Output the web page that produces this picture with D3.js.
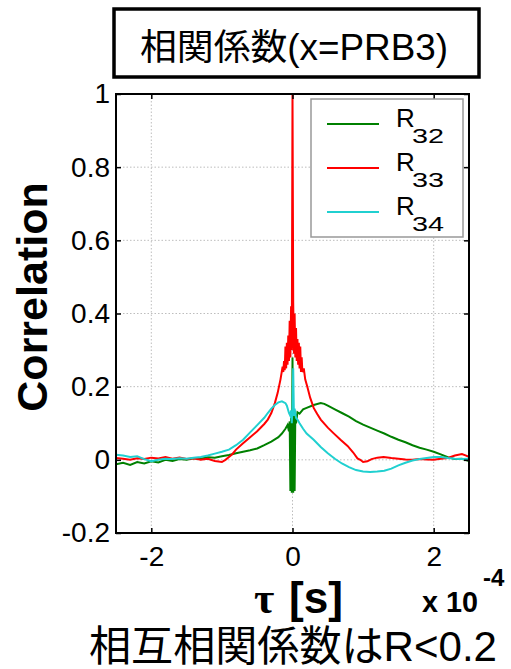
<!DOCTYPE html>
<html><head><meta charset="utf-8">
<script src="https://cdn.jsdelivr.net/npm/d3@7/dist/d3.min.js"></script>
<style>body{margin:0;background:#fff}svg{display:block}</style>
</head><body>
<script>
// ---- data (tau in units of 1e-4 s) ----
const seriesNames = ["R32", "R33", "R34"];
const seriesSubs = ["32", "33", "34"];
const seriesColors = ["#008000", "#ff0000", "#20d0d0"];

const tauG = [-2.5,-2.4,-2.3,-2.2,-2.1,-2.0,-1.9,-1.8,-1.7,-1.6,-1.5,-1.4,-1.3,-1.2,-1.1,-1.0,
  -0.9,-0.8,-0.7,-0.6,-0.5,-0.4,-0.3,-0.25,-0.2,-0.15,-0.1,-0.07,-0.05,-0.04,-0.03,-0.02,-0.01,
  0,0.01,0.02,0.03,0.04,0.05,0.07,0.1,0.15,0.2,0.3,0.4,0.45,0.5,
  0.6,0.7,0.8,0.9,1.0,1.1,1.2,1.3,1.4,1.5,1.6,1.7,1.8,1.9,2.0,2.1,2.2,2.3,2.4,2.5];
const valG = [-0.012,-0.008,-0.014,-0.006,-0.010,-0.004,-0.007,0.000,-0.003,0.002,0.000,0.004,0.003,0.007,0.006,0.010,
  0.013,0.018,0.022,0.026,0.031,0.040,0.050,0.056,0.062,0.072,0.085,0.095,0.078,0.105,-0.085,0.115,-0.09,
  0.28,-0.09,0.12,-0.085,0.125,0.10,0.13,0.126,0.138,0.142,0.150,0.155,0.153,0.148,
  0.138,0.128,0.118,0.106,0.096,0.088,0.080,0.072,0.063,0.055,0.048,0.040,0.033,0.028,0.022,0.015,0.007,0.002,0.003,-0.003];

const tauR = [-2.5,-2.4,-2.3,-2.2,-2.1,-2.0,-1.9,-1.8,-1.7,-1.6,-1.5,-1.4,-1.3,-1.2,-1.1,-1.0,
  -0.95,-0.9,-0.85,-0.8,-0.7,-0.6,-0.5,-0.4,-0.35,-0.3,-0.25,-0.21,-0.17,
  -0.14,-0.13,-0.12,-0.11,-0.1,-0.09,-0.08,-0.07,-0.06,-0.05,-0.04,-0.03,-0.02,-0.01,
  0,0.01,0.02,0.03,0.04,0.05,0.06,0.07,0.08,0.09,0.1,0.11,0.12,0.13,0.14,
  0.16,0.18,0.21,0.25,0.3,0.35,0.4,0.5,0.58,0.68,0.78,0.86,0.92,0.96,
  1.0,1.06,1.12,1.2,1.29,1.4,1.5,1.6,1.7,1.8,1.9,2.0,2.1,2.2,2.3,2.4,2.45,2.5];
const valR = [0.005,0.003,0.000,0.004,0.002,0.006,0.004,0.008,0.003,0.006,0.002,0.004,0.000,0.003,-0.003,-0.006,
  0.000,0.008,0.016,0.028,0.045,0.062,0.078,0.098,0.110,0.128,0.155,0.183,0.220,
  0.255,0.240,0.270,0.245,0.310,0.250,0.320,0.260,0.340,0.270,0.380,0.280,0.420,0.300,
  1.0,0.430,0.290,0.400,0.280,0.360,0.270,0.330,0.260,0.320,0.250,0.310,0.240,0.280,0.240,
  0.250,0.220,0.200,0.170,0.142,0.125,0.110,0.088,0.073,0.055,0.038,0.020,0.004,0.000,
  -0.006,-0.004,0.002,0.006,0.008,0.005,0.003,0.001,0.000,0.002,0.001,0.000,0.003,0.005,0.012,0.016,0.012,0.008];

const tauC = [-2.5,-2.4,-2.3,-2.2,-2.1,-2.0,-1.9,-1.8,-1.7,-1.6,-1.5,-1.4,-1.3,-1.2,-1.1,-1.0,
  -0.9,-0.8,-0.7,-0.6,-0.5,-0.4,-0.35,-0.3,-0.25,-0.2,-0.15,-0.1,-0.08,-0.05,-0.03,-0.02,-0.01,
  0,0.01,0.02,0.03,0.05,0.07,0.1,0.15,0.2,
  0.3,0.4,0.5,0.6,0.7,0.8,0.9,1.0,1.1,1.2,1.3,1.4,1.5,1.6,1.7,1.8,1.9,2.0,2.1,2.2,2.3,2.4,2.5];
const valC = [0.014,0.012,0.008,0.010,0.002,-0.004,0.000,0.003,0.002,0.004,0.003,0.006,0.008,0.012,0.017,0.022,
  0.028,0.040,0.055,0.075,0.095,0.115,0.128,0.140,0.150,0.157,0.160,0.155,0.148,0.128,0.12,0.135,0.10,
  0.14,0.25,0.12,0.14,0.115,0.11,0.10,0.085,0.072,
  0.055,0.035,0.018,0.003,-0.010,-0.020,-0.028,-0.032,-0.033,-0.032,-0.030,-0.024,-0.015,-0.008,-0.002,0.002,0.005,0.008,0.008,0.005,0.003,0.002,0.003];

const xTicks = [-2, 0, 2];
const xTickLabels = ["-2", "0", "2"];
const yTicks = [-0.2, 0, 0.2, 0.4, 0.6, 0.8, 1];
const yTickLabels = ["-0.2", "0", "0.2", "0.4", "0.6", "0.8", "1"];

const titleText = "相関係数(x=PRB3)";
const yLabelText = "Correlation";
const bottomText = "相互相関係数はR<0.2";

// ---- drawing ----
const W = 511, H = 669;
const L = 116, R = 469, T = 94, B = 533;
const sans = "'Liberation Sans', Arial, 'Noto Sans CJK JP', sans-serif";

const svg = d3.select("body").append("svg").attr("width", W).attr("height", H);
const x = d3.scaleLinear().domain([-2.5, 2.5]).range([L, R]);
const y = d3.scaleLinear().domain([-0.2, 1]).range([B, T]);

// title box
svg.append("rect").attr("x", 114).attr("y", 9).attr("width", 365).attr("height", 68)
  .attr("fill", "#fff").attr("stroke", "#000").attr("stroke-width", 3.5);
svg.append("text").attr("x", 294).attr("y", 60).attr("text-anchor", "middle")
  .attr("font-family", sans).attr("font-size", 36).attr("textLength", 308)
  .attr("lengthAdjust", "spacingAndGlyphs").text(titleText);

// grid
const gridG = svg.append("g").attr("stroke", "#bdbdbd").attr("stroke-width", 1)
  .attr("stroke-dasharray", "1.5,2");
gridG.selectAll("line.gx").data(xTicks).join("line").attr("class", "gx")
  .attr("x1", d => x(d)).attr("x2", d => x(d)).attr("y1", T).attr("y2", B);
gridG.selectAll("line.gy").data(yTicks.filter(d => d > -0.2 && d < 1)).join("line").attr("class", "gy")
  .attr("y1", d => y(d)).attr("y2", d => y(d)).attr("x1", L).attr("x2", R);

// lines
svg.append("clipPath").attr("id", "clip").append("rect")
  .attr("x", L).attr("y", T - 1).attr("width", R - L).attr("height", B - T + 1);
const line = d3.line().x(d => x(d[0])).y(d => y(d[1]));
const series = [d3.zip(tauG, valG), d3.zip(tauR, valR), d3.zip(tauC, valC)];
const plotG = svg.append("g").attr("clip-path", "url(#clip)");
series.forEach((s, i) => {
  plotG.append("path").datum(s).attr("d", line).attr("fill", "none")
    .attr("stroke", seriesColors[i]).attr("stroke-width", 2).attr("stroke-linejoin", "miter");
});

// axes
function styleAxis(g) {
  g.select(".domain").remove();
  g.selectAll(".tick line").attr("stroke", "#000").attr("stroke-width", 1.5);
  g.selectAll("text").attr("font-family", sans).attr("font-size", 28).attr("fill", "#000");
}
svg.append("g").attr("transform", `translate(0,${B})`)
  .call(d3.axisBottom(x).tickValues(xTicks).tickFormat((d, i) => xTickLabels[i]).tickSize(-5).tickPadding(13))
  .call(styleAxis);
svg.append("g").attr("transform", `translate(0,${T})`)
  .call(d3.axisTop(x).tickValues(xTicks).tickFormat("").tickSize(-5)).call(styleAxis);
svg.append("g").attr("transform", `translate(${L},0)`)
  .call(d3.axisLeft(y).tickValues(yTicks).tickFormat((d, i) => yTickLabels[i]).tickSize(-5).tickPadding(6))
  .call(styleAxis);
svg.append("g").attr("transform", `translate(${R},0)`)
  .call(d3.axisRight(y).tickValues(yTicks).tickFormat("").tickSize(-5)).call(styleAxis);

svg.append("rect").attr("x", L).attr("y", T).attr("width", R - L).attr("height", B - T)
  .attr("fill", "none").attr("stroke", "#000").attr("stroke-width", 2);

// legend
const lg = svg.append("g");
lg.append("rect").attr("x", 311).attr("y", 99).attr("width", 152).attr("height", 138)
  .attr("fill", "#fff").attr("stroke", "#999").attr("stroke-width", 1.5);
seriesNames.forEach((n, i) => {
  const yy = 124 + i * 44;
  lg.append("line").attr("x1", 327).attr("x2", 379).attr("y1", yy).attr("y2", yy)
    .attr("stroke", seriesColors[i]).attr("stroke-width", 2);
  lg.append("text").attr("x", 396).attr("y", yy + 3).attr("font-family", sans)
    .attr("font-size", 26).text("R");
  lg.append("text").attr("x", 412).attr("y", yy + 19).attr("font-family", sans)
    .attr("font-size", 21).attr("textLength", 32).attr("lengthAdjust", "spacingAndGlyphs").text(seriesSubs[i]);
});

// y label
svg.append("text").attr("transform", "translate(47,297) rotate(-90)")
  .attr("text-anchor", "middle").attr("font-family", sans).attr("font-weight", "bold")
  .attr("font-size", 43).text(yLabelText);

// x label
svg.append("text").attr("x", 254).attr("y", 613).attr("font-family", "'Liberation Serif', 'Times New Roman', serif")
  .attr("font-size", 44).attr("font-weight", "bold").text("τ");
svg.append("text").attr("x", 289).attr("y", 613).attr("font-family", sans).attr("font-weight", "bold")
  .attr("font-size", 44).attr("textLength", 54).attr("lengthAdjust", "spacingAndGlyphs").text("[s]");

// exponent
svg.append("text").attr("x", 422).attr("y", 612).attr("font-family", sans).attr("font-weight", "bold")
  .attr("font-size", 30).attr("textLength", 56).attr("lengthAdjust", "spacingAndGlyphs").text("x 10");
svg.append("text").attr("x", 483).attr("y", 586).attr("font-family", sans).attr("font-weight", "bold")
  .attr("font-size", 24).text("-4");

// bottom text
svg.append("text").attr("x", 293).attr("y", 661).attr("text-anchor", "middle")
  .attr("font-family", sans).attr("font-size", 42).attr("textLength", 408)
  .attr("lengthAdjust", "spacingAndGlyphs").text(bottomText);
</script>
</body></html>
